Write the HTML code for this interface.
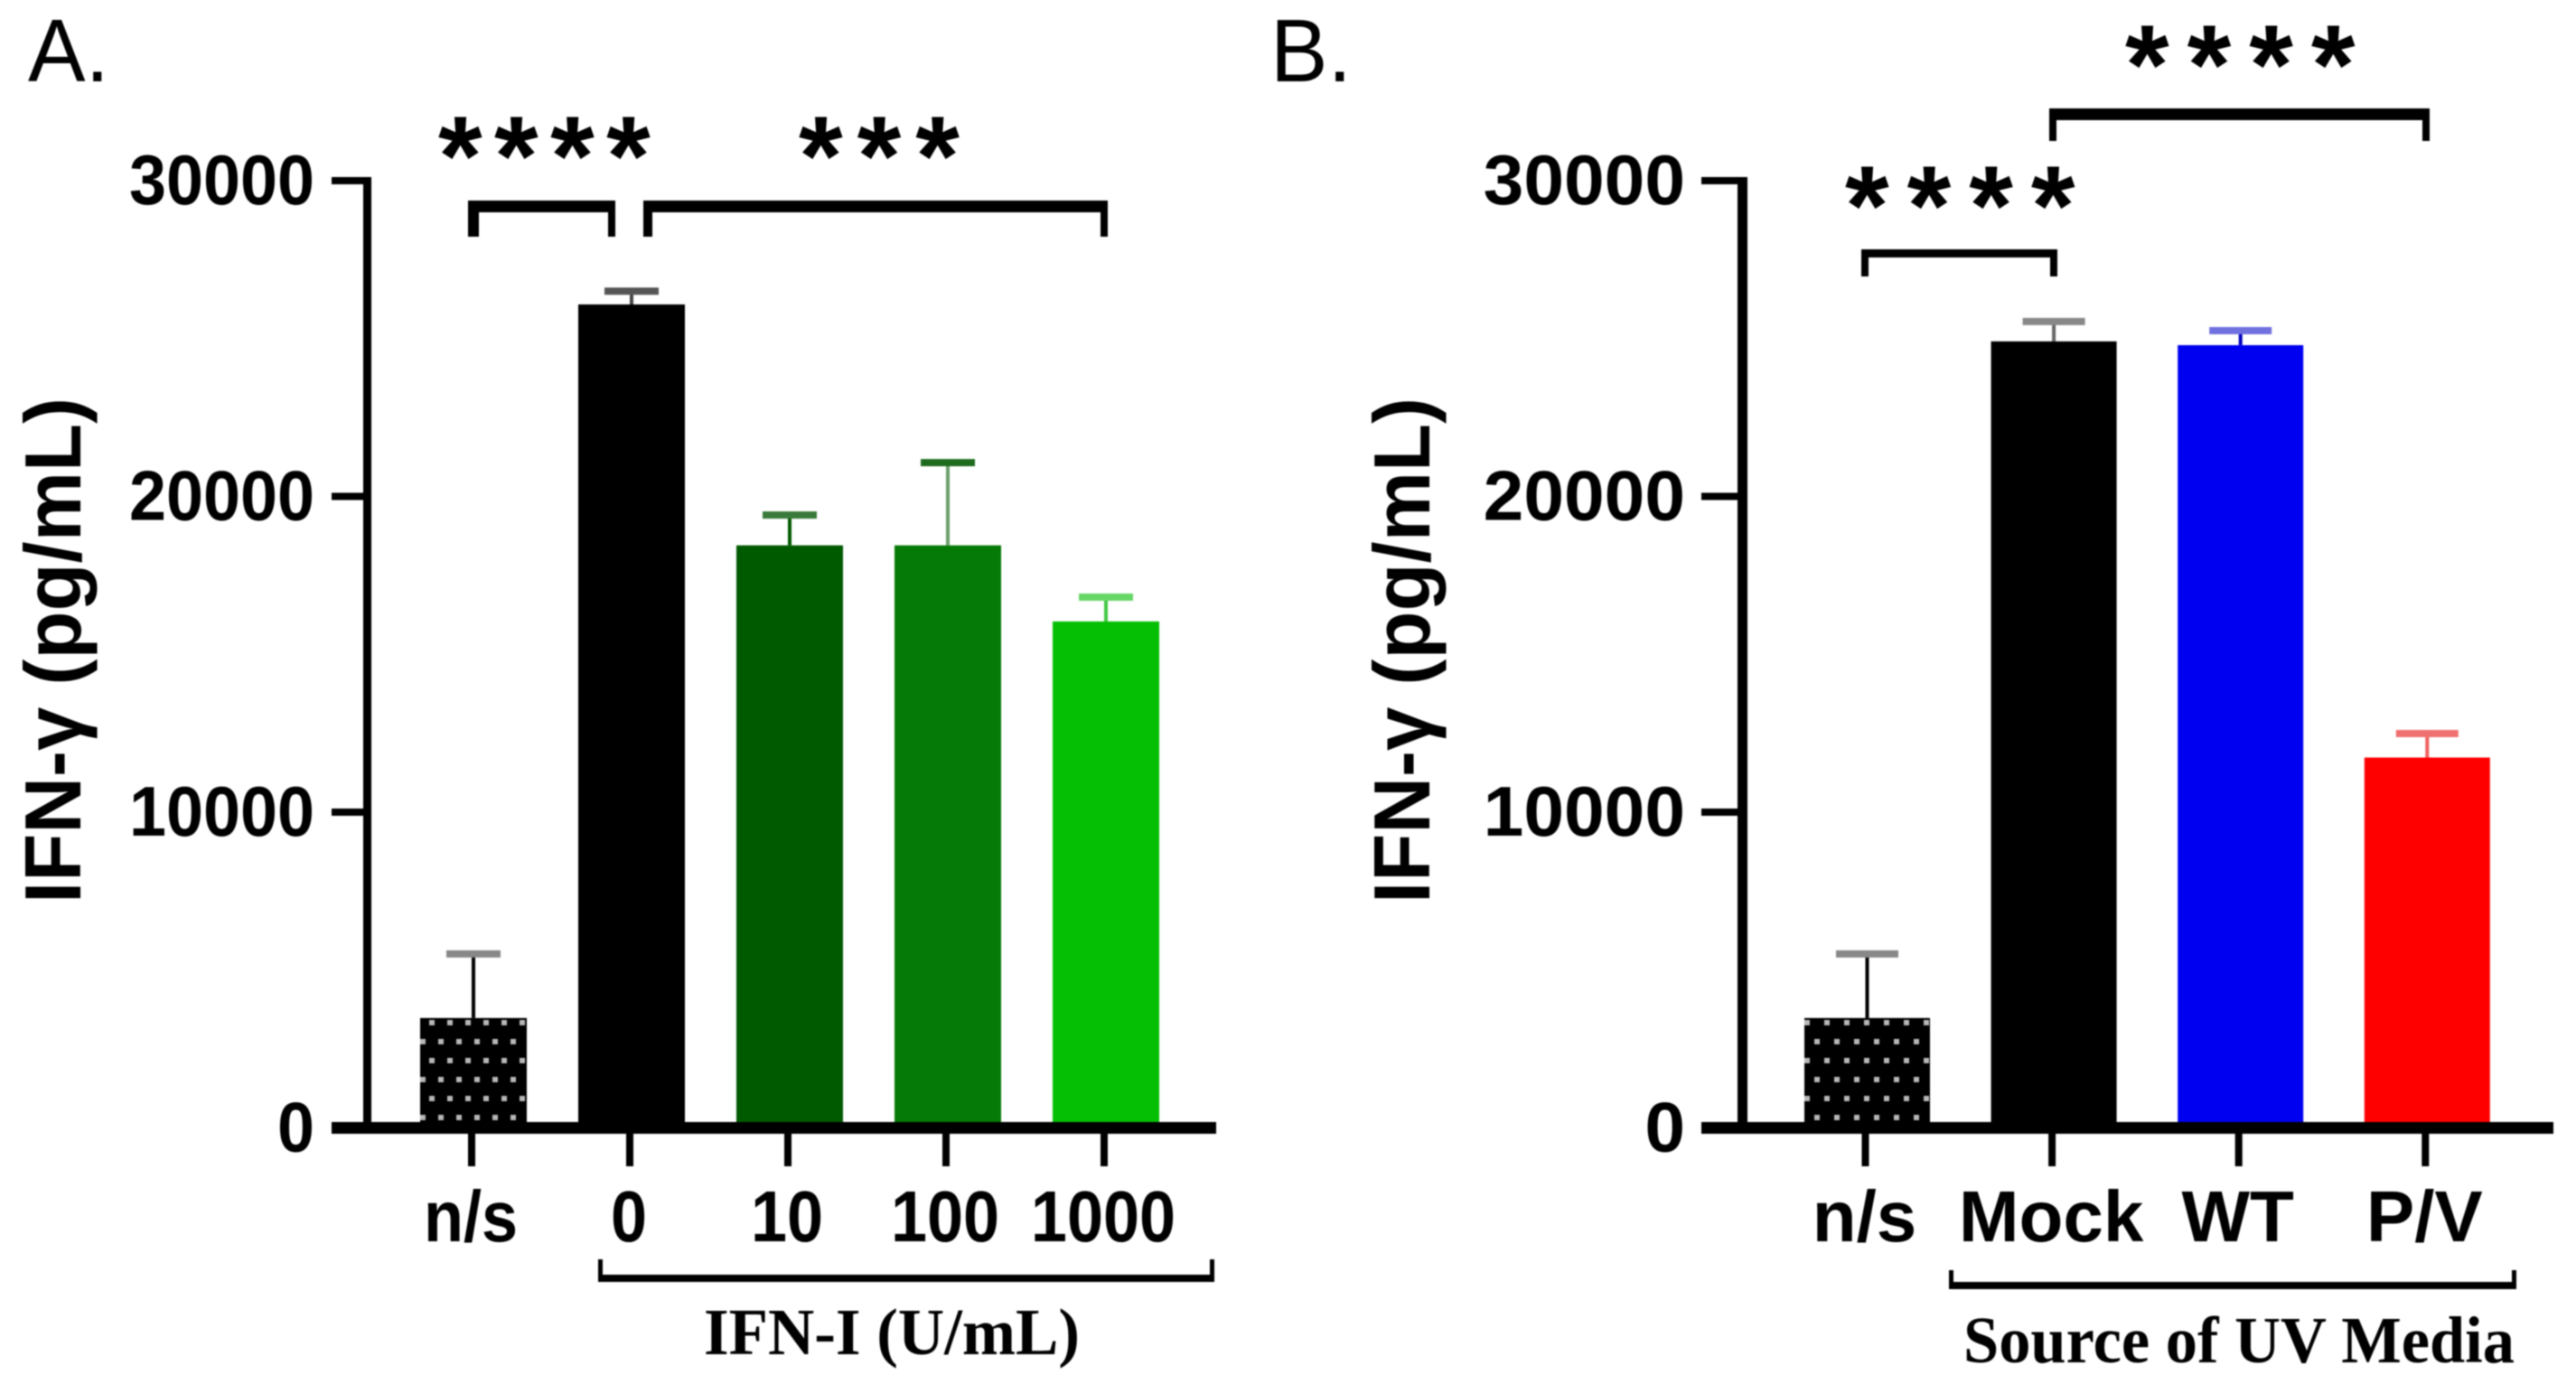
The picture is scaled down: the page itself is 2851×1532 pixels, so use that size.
<!DOCTYPE html>
<html lang="en">
<head>
<meta charset="utf-8">
<title>IFN-γ bar charts</title>
<style>
html,body{margin:0;padding:0;background:#fff;width:2851px;height:1532px;overflow:hidden}
svg{display:block;filter:blur(0.7px)}
text{font-family:"Liberation Sans",sans-serif;fill:#000}
.b{font-weight:700}
.serif{font-family:"Liberation Serif",serif;font-weight:700}
.star{font-weight:700;font-size:125px}
</style>
</head>
<body>
<svg id="chart" xmlns="http://www.w3.org/2000/svg" width="2851" height="1532" viewBox="0 0 2851 1532">
  <defs>
    <pattern id="dotsA" patternUnits="userSpaceOnUse" x="458" y="1143" width="20" height="42">
      <rect x="7" y="7" width="6" height="6" fill="#b8b8b8"/>
      <rect x="-3" y="28" width="6" height="6" fill="#b8b8b8"/>
      <rect x="17" y="28" width="6" height="6" fill="#b8b8b8"/>
    </pattern>
    <pattern id="dotsB" patternUnits="userSpaceOnUse" x="2000" y="1143" width="22" height="42">
      <rect x="8" y="7" width="6" height="6" fill="#b8b8b8"/>
      <rect x="-3" y="28" width="6" height="6" fill="#b8b8b8"/>
      <rect x="19" y="28" width="6" height="6" fill="#b8b8b8"/>
    </pattern>
  </defs>

  <g id="panelA"></g>
  <g id="panelB"></g>

  <text x="31" y="90" font-size="98" textLength="90" lengthAdjust="spacingAndGlyphs">A.</text>
  <text x="1406" y="90" font-size="98" textLength="90" lengthAdjust="spacingAndGlyphs">B.</text>

  <text class="b" transform="translate(89,720) rotate(-90)" text-anchor="middle" font-size="88" textLength="560" lengthAdjust="spacingAndGlyphs">IFN-γ (pg/mL)</text>
  <text class="b" transform="translate(1582,720) rotate(-90)" text-anchor="middle" font-size="88" textLength="560" lengthAdjust="spacingAndGlyphs">IFN-γ (pg/mL)</text>

  <path d="M518 262V222H681V262H673V235H530V262Z"/>
  <path d="M712 262V222H1226V262H1218V235H722V262Z"/>
  <text class="star" x="485" y="216" letter-spacing="13.4">****</text>
  <text class="star" x="884" y="216" letter-spacing="16">***</text>

  <path d="M2268 156V120H2689V156H2681V133H2276V156Z"/>
  <path d="M2060 306V276H2277V306H2269V285H2068V306Z"/>
  <text class="star" x="2352" y="115" letter-spacing="20">****</text>
  <text class="star" x="2042" y="271" letter-spacing="20">****</text>

  <path d="M662 1394H667V1411H1339V1394H1344V1419H662Z"/>
  <text class="serif" x="779" y="1499" font-size="73" textLength="416" lengthAdjust="spacingAndGlyphs">IFN-I (U/mL)</text>

  <path d="M2157 1406H2162V1419H2780V1406H2785V1427H2157Z"/>
  <text class="serif" x="2173" y="1508" font-size="73" textLength="610" lengthAdjust="spacingAndGlyphs">Source of UV Media</text>
</svg>

<script>
// Shared value axis
const yTickValues = [0, 10000, 20000, 30000];
const yTickLabels = ["0", "10000", "20000", "30000"];

// Panel A data
const categoriesA = ["n/s", "0", "10", "100", "1000"];
const meansA = [3480, 26080, 18450, 18450, 16040];
const upperErrorsA = [5510, 26500, 19410, 21070, 16810];

// Panel B data
const categoriesB = ["n/s", "Mock", "WT", "P/V"];
const meansB = [3480, 24910, 24790, 11730];
const upperErrorsB = [5510, 25540, 25250, 12490];

// Bar appearance
const fillsA = ["url(#dotsA)", "#000000", "#005a00", "#067a06", "#04bf04"];
const capColorsA = ["#888888", "#555555", "#3a7a3a", "#1e6b1e", "#66d666"];
const stemColorsA = ["#000000", "#444444", "#005a00", "#6a9f6a", "#44c844"];
const fillsB = ["url(#dotsB)", "#000000", "#0000f0", "#ff0000"];
const capColorsB = ["#888888", "#888888", "#7070e0", "#f07070"];
const stemColorsB = ["#000000", "#666666", "#0000c0", "#f06060"];

const SVGNS = "http://www.w3.org/2000/svg";
const Y_ZERO = 1248.5;
const Y_PX_PER_UNIT = 1048.5 / 30000;
function yScale(v) { return Y_ZERO - v * Y_PX_PER_UNIT; }

function make(parent, tag, attrs, content) {
  const el = document.createElementNS(SVGNS, tag);
  for (const k in attrs) el.setAttribute(k, attrs[k]);
  if (content !== undefined) el.textContent = content;
  parent.appendChild(el);
  return el;
}

function drawPanel(cfg) {
  const root = document.getElementById(cfg.id);
  const xScale = function (i) { return cfg.x0 + i * cfg.step; };

  // Bars + error bars
  cfg.categories.forEach(function (cat, i) {
    const cx = xScale(i);
    const top = yScale(cfg.means[i]);
    const errY = yScale(cfg.errors[i]);
    const slug = String(cat).toLowerCase().replace(/[^a-z0-9]/g, "");

    const stem = make(root, "rect", { x: cx - 2, y: errY, width: 4, height: top - errY, fill: cfg.stems[i] });
    
    

    const cap = make(root, "rect", { x: cx - cfg.capW / 2, y: errY - 4, width: cfg.capW, height: 8, fill: cfg.caps[i] });
    
    

    if (i === 0) {
      const base = make(root, "rect", { x: cx - cfg.barW / 2, y: top, width: cfg.barW, height: Y_ZERO - top, fill: "#000" });
      
      
    }
    const bar = make(root, "rect", { x: cx - cfg.barW / 2, y: top, width: cfg.barW, height: Y_ZERO - top, fill: cfg.fills[i] });
    
    

    const tick = make(root, "rect", { x: cx - 6, y: Y_ZERO, width: 8, height: 1291 - Y_ZERO, fill: "#000" });
    
    

    const label = make(root, "text", { "class": "b", "text-anchor": "middle", "font-size": 80, transform: "translate(" + (cx - 3) + ",1374) scale(" + cfg.catScale + ",1)" }, cat);
    
    
  });

  // Y axis
  const yAxis = make(root, "rect", { x: cfg.axisX, y: yScale(30000) - 4, width: cfg.axisW, height: Y_ZERO - yScale(30000) + 4, fill: "#000" });
  
  

  yTickValues.forEach(function (v, i) {
    const yy = yScale(v);
    const tick = make(root, "rect", { x: cfg.tickX, y: yy - 4, width: cfg.axisX - cfg.tickX, height: 8, fill: "#000" });
    
    

    const label = make(root, "text", { "class": "b", "text-anchor": "end", "font-size": 78, transform: "translate(" + cfg.labelRight + "," + (yy + 26) + ") scale(" + cfg.yScaleX + ",1)" }, yTickLabels[i]);
    
    
  });

  // X axis
  const xAxis = make(root, "rect", { x: cfg.tickX, y: 1242, width: cfg.axisEnd - cfg.tickX, height: 13, fill: "#000" });
  
  
}

drawPanel({
  id: "panelA", categories: categoriesA, means: meansA, errors: upperErrorsA,
  fills: fillsA, caps: capColorsA, stems: stemColorsA,
  x0: 524, step: 175, barW: 118, capW: 60,
  axisX: 402, axisW: 9, tickX: 367, axisEnd: 1346, labelRight: 348, yScaleX: 0.945, catScale: 0.9
});
drawPanel({
  id: "panelB", categories: categoriesB, means: meansB, errors: upperErrorsB,
  fills: fillsB, caps: capColorsB, stems: stemColorsB,
  x0: 2066.5, step: 206.6, barW: 139, capW: 69,
  axisX: 1923, axisW: 11, tickX: 1883, axisEnd: 2826, labelRight: 1865, yScaleX: 1.03, catScale: 1
});
</script>
</body>
</html>
